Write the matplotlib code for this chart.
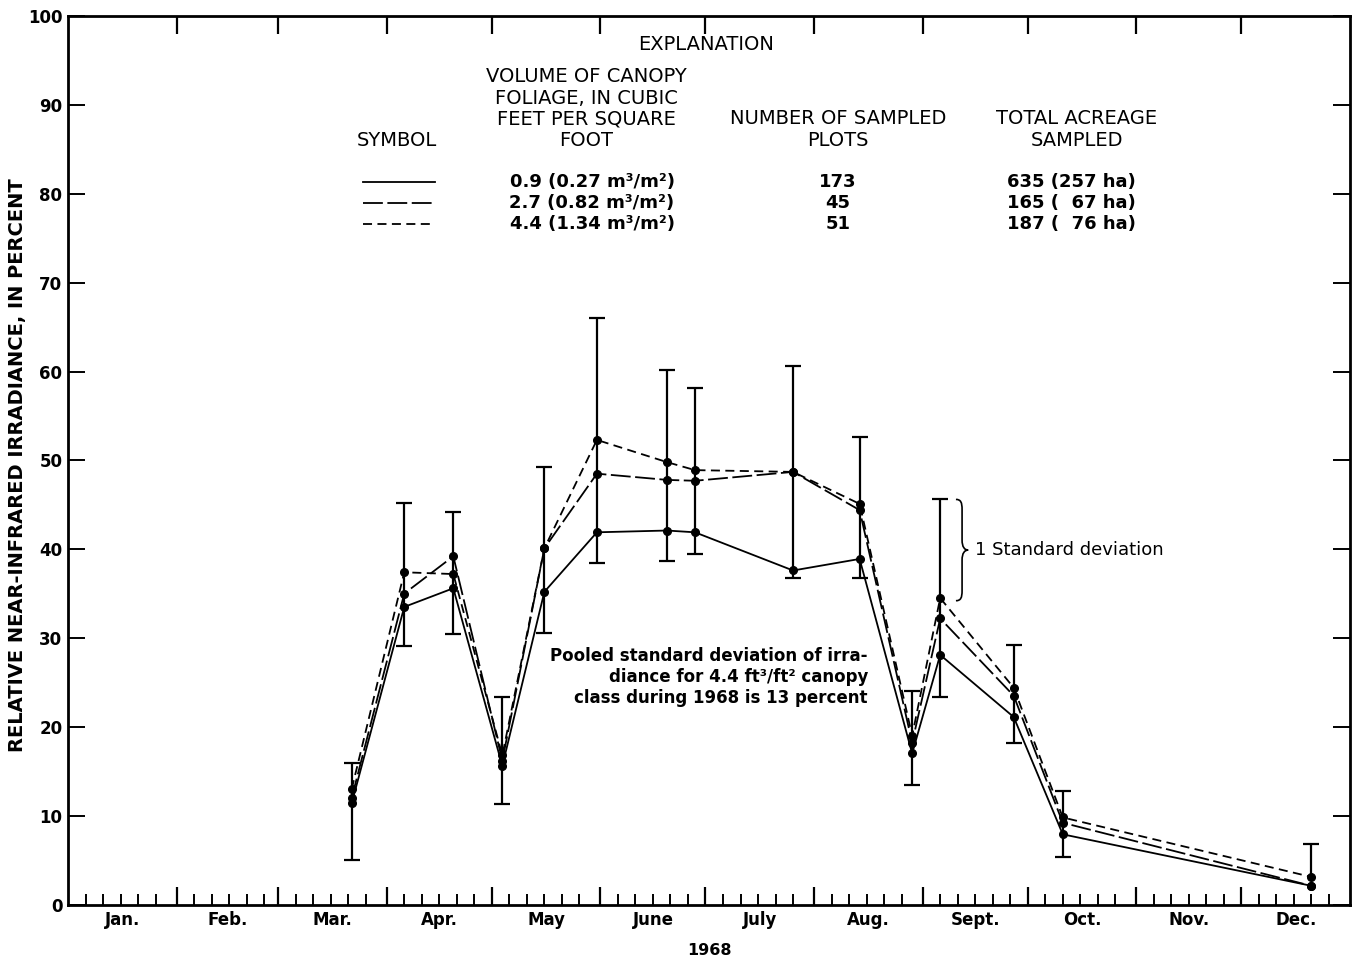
import numpy as np
import matplotlib
matplotlib.use("Agg")
import matplotlib.pyplot as plt
from matplotlib.path import Path
from matplotlib.patches import PathPatch
from matplotlib.lines import Line2D

# day of year (Jan 1 = 0), 1968 is a leap year
month_start = [0, 31, 60, 91, 121, 152, 182, 213, 244, 274, 305, 335, 366]
month_names = ['Jan.', 'Feb.', 'Mar.', 'Apr.', 'May', 'June', 'July',
               'Aug.', 'Sept.', 'Oct.', 'Nov.', 'Dec.']

days = [81, 96, 110, 124, 136, 151, 171, 179, 207, 226, 241, 249, 270, 284, 355]

# relative near-infrared irradiance, percent
irr_09 = [11.4, 33.5, 35.6, 15.6, 35.2, 41.9, 42.1, 41.9, 37.6, 38.9, 17.0, 28.1, 21.1, 7.9, 2.1]
irr_27 = [12.0, 35.0, 39.2, 16.2, 40.1, 48.5, 47.8, 47.7, 48.7, 44.4, 18.2, 32.2, 23.5, 9.2, 2.1]
irr_44 = [13.0, 37.4, 37.2, 16.8, 40.1, 52.3, 49.8, 48.9, 48.7, 45.1, 19.0, 34.5, 24.4, 9.8, 3.1]

# one standard deviation bars
err_hi = [15.9, 45.2, 44.2, 23.4, 49.2, 66.0, 60.2, 58.1, 60.6, 52.6, 24.0, 45.6, 29.2, 12.8, 6.8]
err_lo = [5.0, 29.1, 30.5, 11.3, 30.6, 38.5, 38.7, 39.5, 36.8, 36.8, 13.5, 23.4, 18.2, 5.4, np.nan]

classes = ['0.9 (0.27 m\u00b3/m\u00b2)', '2.7 (0.82 m\u00b3/m\u00b2)', '4.4 (1.34 m\u00b3/m\u00b2)']
n_plots = ['173', '45', '51']
acreage = ['635 (257 ha)', '165 (  67 ha)', '187 (  76 ha)']

styles = ['-', (0, (11, 2.5)), (0, (5, 3))]

W, H = 1353, 960
fig = plt.figure(figsize=(W / 100, H / 100), dpi=100)
ax = fig.add_axes([68 / W, 1 - 904.5 / H, 1282 / W, 888.3 / H])


def ftext(x, y, s, **kw):
    # place text by pixel position of the page
    kw.setdefault('ha', 'center')
    kw.setdefault('va', 'center')
    fig.text(x / W, 1 - y / H, s, **kw)


# error bars
lo = np.where(np.isnan(err_lo), irr_44, err_lo)
ax.vlines(days, lo, err_hi, color='black', lw=1.6, zorder=2)
ax.plot(days, err_hi, ls='none', marker='_', ms=12, mew=1.6, color='black')
ax.plot(days, err_lo, ls='none', marker='_', ms=12, mew=1.6, color='black')

for vals, ls in zip([irr_09, irr_27, irr_44], styles):
    ax.plot(days, vals, ls=ls, color='black', lw=1.3, marker='o', ms=5.5,
            zorder=3)

ax.set_xlim(0, 366)
ax.set_ylim(0, 100)

# month boundaries as major ticks, 5-day minor ticks
ax.set_xticks(month_start[1:-1])
ax.set_xticklabels([])
minor = [s + d for s, e in zip(month_start[:-1], month_start[1:])
         for d in (5, 10, 15, 20, 25) if s + d < e]
ax.set_xticks(minor, minor=True)
ax.tick_params(axis='x', which='major', direction='in', length=13, width=1.6,
               top=True, bottom=True)
ax.tick_params(axis='x', which='minor', direction='in', length=8, width=1.4,
               top=False, bottom=True)
ax.set_yticks(range(0, 101, 10))
ax.tick_params(axis='y', direction='in', length=12, width=1.4, right=True,
               pad=4, labelsize=12)
for lab in ax.get_yticklabels():
    lab.set_fontweight('bold')
for sp in ax.spines.values():
    sp.set_linewidth(2.0)

tr = ax.get_xaxis_transform()
for s, e, name in zip(month_start[:-1], month_start[1:], month_names):
    ax.text((s + e) / 2, -0.0175, name, transform=tr, ha='center',
            va='center', fontsize=12, fontweight='semibold')
ax.text(183, -0.052, '1968', transform=tr, ha='center', va='center',
        fontsize=11.5, fontweight='semibold')

ftext(18, 465, 'RELATIVE NEAR-INFRARED IRRADIANCE, IN PERCENT', rotation=90,
      fontsize=14, fontweight='bold')

# explanation block
hfont = dict(family='DejaVu Sans', fontsize=14)
ftext(706, 45, 'EXPLANATION', **hfont)
ftext(586, 77, 'VOLUME OF CANOPY', **hfont)
ftext(586, 98, 'FOLIAGE, IN CUBIC', **hfont)
ftext(586, 119, 'FEET PER SQUARE', **hfont)
ftext(586, 140, 'FOOT', **hfont)
ftext(397, 140, 'SYMBOL', **hfont)
ftext(838, 119, 'NUMBER OF SAMPLED', **hfont)
ftext(838, 140, 'PLOTS', **hfont)
ftext(1077, 119, 'TOTAL ACREAGE', **hfont)
ftext(1077, 140, 'SAMPLED', **hfont)

rfont = dict(fontsize=13, fontweight='bold')
for i, (ls, c, n, a) in enumerate(zip(styles, classes, n_plots, acreage)):
    y = 182 + 21 * i
    fig.add_artist(Line2D([363 / W, 435 / W], [1 - y / H, 1 - y / H],
                          ls=ls, color='black', lw=1.3))
    ftext(592, y, c, **rfont)
    ftext(838, y, n, **rfont)
    ftext(1071, y, a, **rfont)

ftext(868, 677, 'Pooled standard deviation of irra-\n'
      'diance for 4.4 ft\u00b3/ft\u00b2 canopy\n'
      'class during 1968 is 13 percent',
      ha='right', ma='right', fontsize=12, fontweight='bold',
      linespacing=1.2)


# curly brace marking one standard deviation
def brace(x, y0, y1, w):
    u = [0, 0.4, 0.5, 0.5, 0.5, 0.5, 0.7, 1.0, 0.7, 0.5, 0.5, 0.5, 0.5, 0.4, 0]
    v = [1, 1, 0.97, 0.9, 0.6, 0.53, 0.5, 0.5, 0.5, 0.47, 0.4, 0.1, 0.03, 0, 0]
    codes = [Path.MOVETO, Path.CURVE4, Path.CURVE4, Path.CURVE4, Path.LINETO,
             Path.CURVE4, Path.CURVE4, Path.CURVE4, Path.CURVE4, Path.CURVE4,
             Path.CURVE4, Path.LINETO, Path.CURVE4, Path.CURVE4, Path.CURVE4]
    verts = [(x + a * w, y0 + b * (y1 - y0)) for a, b in zip(u, v)]
    ax.add_patch(PathPatch(Path(verts, codes), fc='none', ec='black', lw=1.2))
    return x + w, (y0 + y1) / 2


k = 11
bx, by = brace(253.5, irr_44[k] - 0.3, err_hi[k], 3.5)
ax.text(bx + 2, by, '1 Standard deviation', ha='left', va='center',
        fontsize=13)

fig.savefig('out.png', dpi=100)
